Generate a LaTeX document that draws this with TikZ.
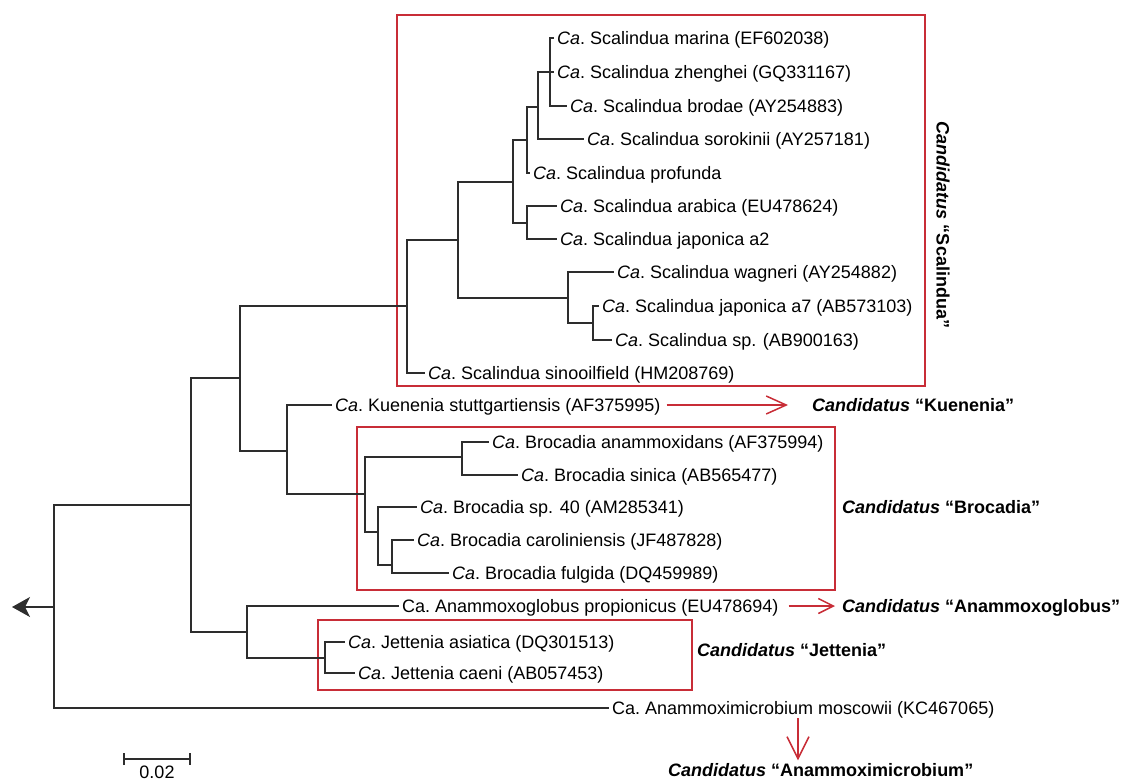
\documentclass[tikz,border=0pt]{standalone}
\usepackage{fontspec}
\setmainfont{Liberation Sans}
\usepackage{xcolor}
\definecolor{cladered}{RGB}{200,45,55}
\definecolor{treegray}{RGB}{45,45,45}
\usetikzlibrary{
  arrows.meta,
  calc
}
\newcommand{\ca}{\textit{Ca}.\ }
\newcommand{\cand}[1]{\textbf{\textit{Candidatus} “#1”}}

\begin{document}
\begin{tikzpicture}[
  x=1pt, y=-1pt,
  leaf/.style={
    anchor=west, inner xsep=3pt, inner ysep=0pt,
    text height=13pt, text depth=0pt, font=\fontsize{18}{20}\selectfont
  },
  genus/.style={
    anchor=west, inner sep=0pt,
    text height=13pt, text depth=0pt, font=\fontsize{18}{20}\selectfont
  },
  branch/.style={treegray, line width=1.4pt},
  clade/.style={draw=cladered, line width=1.8pt},
  redarr/.style={cladered, line width=1.5pt},
]
\useasboundingbox (0,0) rectangle (1121,780);

% Clade boxes
\draw[clade] (397,15)  rectangle (925,386);
\draw[clade] (357,427) rectangle (835,590);
\draw[clade] (318,620) rectangle (692,690);

% Leaves, top to bottom
\node[leaf] (marina)   at (554,38)  {\ca Scalindua marina (EF602038)};
\node[leaf] (zhenghei) at (554,72)  {\ca Scalindua zhenghei (GQ331167)};
\node[leaf] (brodae)   at (567,106) {\ca Scalindua brodae (AY254883)};
\node[leaf] (sorokin)  at (584,139) {\ca Scalindua sorokinii (AY257181)};
\node[leaf] (profunda) at (530,173) {\ca Scalindua profunda};
\node[leaf] (arabica)  at (557,206) {\ca Scalindua arabica (EU478624)};
\node[leaf] (japatwo)  at (557,239) {\ca Scalindua japonica a2};
\node[leaf] (wagneri)  at (614,272) {\ca Scalindua wagneri (AY254882)};
\node[leaf] (japaseven) at (599,306) {\ca Scalindua japonica a7 (AB573103)};
\node[leaf] (scalsp)   at (612,340) {\ca Scalindua sp. (AB900163)};
\node[leaf] (sinooil)  at (425,373) {\ca Scalindua sinooilfield (HM208769)};
\node[leaf] (kuenenia) at (332,405) {\ca Kuenenia stuttgartiensis (AF375995)};
\node[leaf] (anammox)  at (489,442) {\ca Brocadia anammoxidans (AF375994)};
\node[leaf] (sinica)   at (518,475) {\ca Brocadia sinica (AB565477)};
\node[leaf] (brocsp)   at (417,507) {\ca Brocadia sp. 40 (AM285341)};
\node[leaf] (carolin)  at (414,540) {\ca Brocadia caroliniensis (JF487828)};
\node[leaf] (fulgida)  at (449,573) {\ca Brocadia fulgida (DQ459989)};
\node[leaf] (globus)   at (399,606) {Ca.\ Anammoxoglobus propionicus (EU478694)};
\node[leaf] (asiatica) at (345,642) {\ca Jettenia asiatica (DQ301513)};
\node[leaf] (caeni)    at (355,673) {\ca Jettenia caeni (AB057453)};
\node[leaf] (moscow)   at (609,708) {Ca.\ Anammoximicrobium moscowii (KC467065)};

% Inner nodes of the tree
\coordinate (s1) at (550,72);
\coordinate (s2) at (538,107);
\coordinate (s3) at (527,140);
\coordinate (s4) at (513,182);
\coordinate (s5) at (527,223);
\coordinate (s6) at (458,240);
\coordinate (s7) at (568,298);
\coordinate (s8) at (593,323);
\coordinate (s9) at (407,306);
\coordinate (b1) at (365,494);
\coordinate (b2) at (462,457);
\coordinate (b3) at (378,532);
\coordinate (b4) at (392,565);
\coordinate (n1) at (240,378);
\coordinate (n2) at (287,451);
\coordinate (j1) at (247,632);
\coordinate (j2) at (325,658);
\coordinate (r1) at (191,505);
\coordinate (root) at (54,607);
\coordinate (tail) at (12,607);

% Branches (parent/child)
\foreach \p/\c in {s1/marina, s1/zhenghei, s1/brodae, s2/s1, s2/sorokin,
    s3/s2, s3/profunda, s5/arabica, s5/japatwo, s4/s3, s4/s5,
    s8/japaseven, s8/scalsp, s7/wagneri, s7/s8, s6/s4, s6/s7,
    s9/s6, s9/sinooil, b2/anammox, b2/sinica, b4/carolin, b4/fulgida,
    b3/brocsp, b3/b4, b1/b2, b1/b3, n2/kuenenia, n2/b1, n1/s9, n1/n2,
    j2/asiatica, j2/caeni, j1/globus, j1/j2, r1/n1, r1/j1,
    root/r1, root/moscow}
  \draw[branch] (\p) |- (\c);
\draw[branch, -{Stealth[length=18pt, width=20pt, inset=5pt]}] (root) -- (tail);

% Genus labels
\node[genus, rotate=-90, anchor=center] (scallab) at (943,225) {\cand{Scalindua}};
\node[genus] (kuenlab) at (812,405) {\cand{Kuenenia}};
\node[genus] (broclab) at (842,507) {\cand{Brocadia}};
\node[genus] (globlab) at (842,606) {\cand{Anammoxoglobus}};
\node[genus] (jettlab) at (697,650) {\cand{Jettenia}};
\node[genus] (micrlab) at (668,770) {\cand{Anammoximicrobium}};

% Red arrows
\draw[redarr, -{Straight Barb[length=20pt, width=18pt]}, shorten <=3pt, shorten >=24pt]
  (kuenenia.east) -- (kuenlab.west);
\draw[redarr, -{Straight Barb[length=15pt, width=15pt]}, shorten <=7pt, shorten >=7pt]
  (globus.east) -- (globlab.west);
\coordinate (micrtop) at (798,718);
\draw[redarr, -{Straight Barb[length=22pt, width=22pt]}, shorten >=3pt]
  (micrtop) -- (micrtop |- micrlab.north);

% Scale bar
\draw[treegray, line width=2.2pt, {Bar[width=12pt]}-{Bar[width=12pt]}]
  (123,759) -- (191,759);
\node[font=\fontsize{18}{20}\selectfont, anchor=base] (scalenum) at (157,778) {0.02};

\end{tikzpicture}
\end{document}
